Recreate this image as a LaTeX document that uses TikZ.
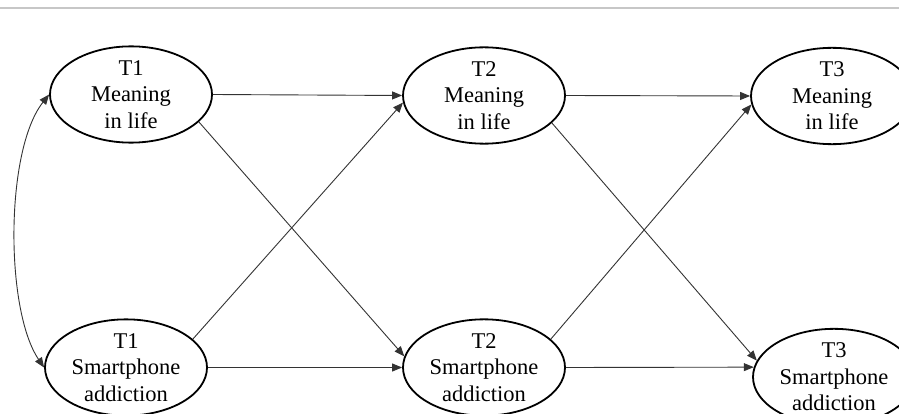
\documentclass[tikz,border=0pt]{standalone}
\usepackage{fontspec}
\setmainfont{Liberation Serif}
\usetikzlibrary{shapes.geometric,arrows.meta}
\begin{document}
\begin{tikzpicture}[x=1pt,y=-1pt,
  latent/.style={ellipse,draw=black,line width=1.8pt,minimum width=162pt,minimum height=96pt,inner sep=0pt,align=center,font=\fontsize{22.5}{26.5}\selectfont},
  path/.style={draw=black!80,line width=0.9pt,-{Triangle[length=10pt,width=8pt]}},
  cov/.style={draw=black!80,line width=0.9pt,{Triangle[length=10pt,width=8pt]}-{Triangle[length=10pt,width=8pt]}}]
\useasboundingbox (0,0) rectangle (899,414);
\clip (0,0) rectangle (899,414);
\fill[white] (0,0) rectangle (899,414);
\coordinate (rl) at (0,8.5);
\coordinate (rr) at (899,8.5);
\draw[draw=black!22,line width=2pt] (rl) -- (rr);
\node[latent] (m1) at (131,94.5) {T1\\Meaning\\in life};
\node[latent] (m2) at (484,95.5) {T2\\Meaning\\in life};
\node[latent] (m3) at (832,96) {T3\\Meaning\\in life};
\node[latent] (s1) at (126,367.5) {T1\\Smartphone\\addiction};
\node[latent] (s2) at (484,367.5) {T2\\Smartphone\\addiction};
\node[latent] (s3) at (834,377) {T3\\Smartphone\\addiction};
\draw[path] (m1.east) -- (m2.west);
\draw[path] (m2.east) -- (m3.west);
\draw[path] (s1.east) -- (s2.west);
\draw[path] (s2.east) -- (s3.173);
\draw[path] (m1.-22) -- (s2.172);
\draw[path] (s1.23) -- (m2.185);
\draw[path] (m2.-22) -- (s3.168);
\draw[path] (s2.23) -- (m3.186);
\draw[cov] (m1.west) .. controls (5,150) and (5,310) .. (s1.west);
\end{tikzpicture}
\end{document}
